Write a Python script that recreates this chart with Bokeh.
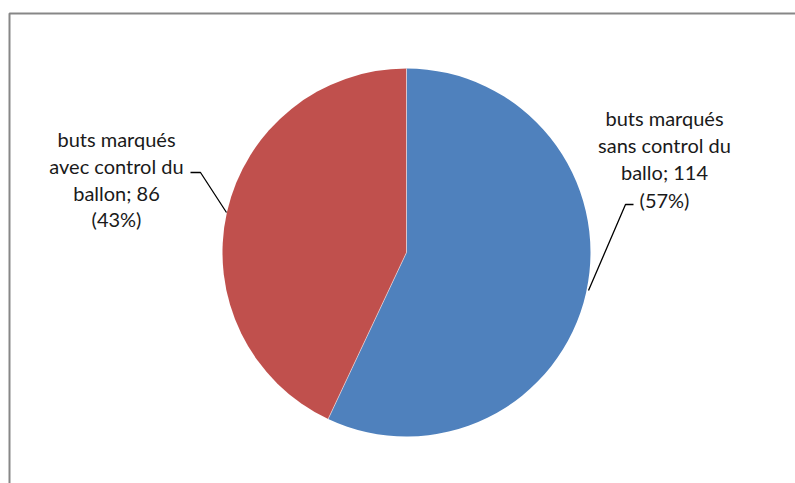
import numpy as np
from bokeh.plotting import figure
from bokeh.models import Range1d, ColumnDataSource
from bokeh.core.properties import value
from bokeh.embed import file_html
from bokeh.resources import INLINE

categories = ["buts marqués sans control du ballo", "buts marqués avec control du ballon"]
values = [114, 86]
colors = ["#4F81BD", "#C0504D"]
label_lines = [
    ["buts marqués", "sans control du", "ballo; 114", "(57%)"],
    ["buts marqués", "avec control du", "ballon; 86", "(43%)"],
]

W, H = 795, 483
p = figure(width=W, height=H, output_backend="svg", toolbar_location=None,
           x_range=Range1d(0, W), y_range=Range1d(0, H), min_border=0)
p.axis.visible = False
p.grid.visible = False
p.outline_line_color = None
p.background_fill_color = "white"
p.border_fill_color = "white"

def Y(y):
    return H - y

# frame
p.line([9, 9, W + 5], [Y(H + 5), Y(13), Y(13)], line_color="#878787", line_width=2)

cx, cy, r = 406, Y(252), 184
vals = np.array(values, dtype=float)
frac = vals / vals.sum()
cum = np.concatenate([[0], np.cumsum(frac)])
# clockwise from top
ang_a = np.pi / 2 - 2 * np.pi * cum[:-1]
ang_b = np.pi / 2 - 2 * np.pi * cum[1:]
src = ColumnDataSource(dict(start=ang_b, end=ang_a, color=colors))
p.wedge(x=cx, y=cy, radius=r, radius_units="screen", start_angle="start", end_angle="end",
        fill_color="color", line_color=None, source=src)
for a in ang_a:
    p.line([cx, cx + r * np.cos(a)], [cy, cy + r * np.sin(a)], line_color="white",
           line_alpha=0.5, line_width=1)

# leader lines
p.line([588, 625, 633], [Y(290), Y(204), Y(204)], line_color="black", line_width=1.3)
p.line([226, 200, 190], [Y(212), Y(172), Y(172)], line_color="black", line_width=1.3)

# labels
centers = [(664, [117, 144, 171, 199]), (116, [138, 165, 192, 218])]
for (lx, ys), lines in zip(centers, label_lines):
    p.text(x=[lx] * len(lines), y=[Y(v) for v in ys], text=lines,
           text_font=value("Lato"), text_font_size="20px", text_color="#1a1a1a",
           text_align="center", text_baseline="middle")

open("out.html", "w").write(file_html(p, INLINE))
